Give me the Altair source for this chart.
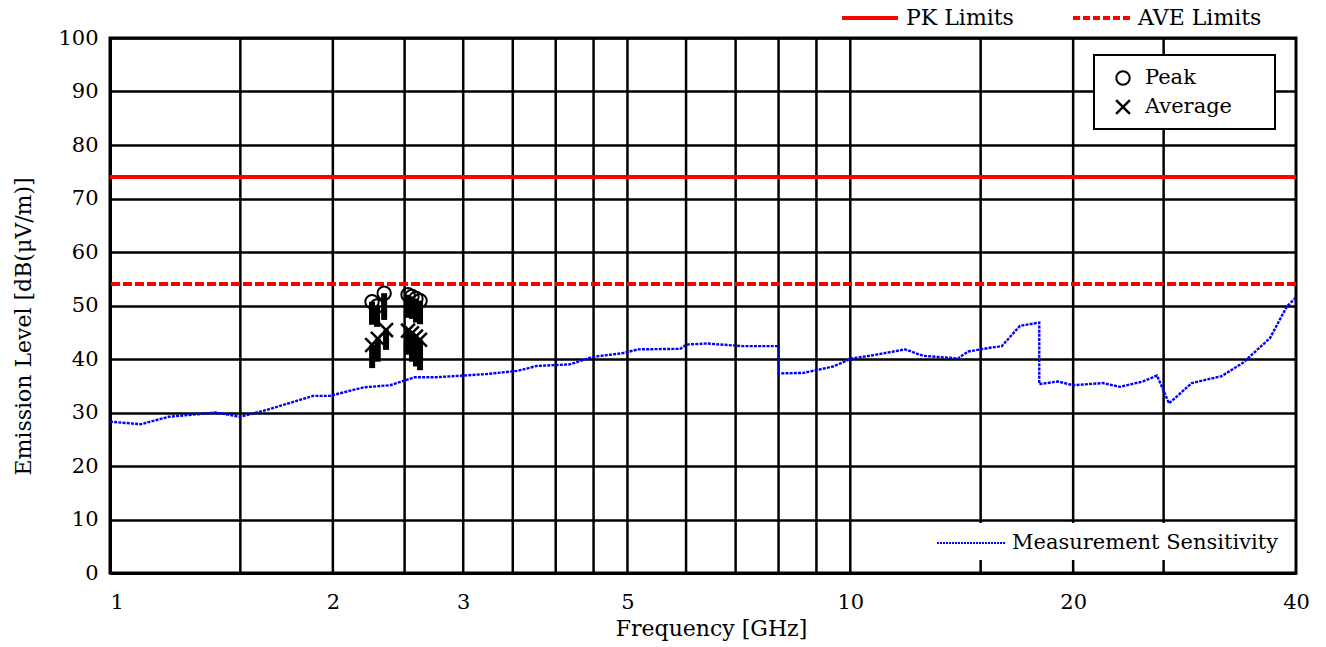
import altair as alt
import pandas as pd

# Measurement sensitivity trace (GHz, dBuV/m)
sens_freq = [1.0, 1.1, 1.2, 1.39, 1.5, 1.63, 1.88, 1.98, 2.2, 2.39, 2.58, 2.76,
             3.0, 3.23, 3.56, 3.77, 4.18, 4.49, 4.93, 5.17, 5.89, 6.01, 6.4,
             7.16, 8.0, 8.0, 8.64, 9.48, 10.04, 10.73, 11.86, 12.54, 13.98,
             14.42, 15.44, 16.02, 16.95, 18.0, 18.0, 19.08, 19.99, 21.94,
             23.13, 24.85, 25.96, 26.95, 28.92, 31.74, 33.92, 36.89, 38.87, 40.0]
sens_level = [28.3, 27.8, 29.2, 30.0, 29.2, 30.5, 33.1, 33.1, 34.7, 35.1, 36.6, 36.6,
              36.9, 37.2, 37.8, 38.7, 39.0, 40.4, 41.1, 41.8, 41.9, 42.7, 42.9,
              42.4, 42.4, 37.3, 37.4, 38.6, 40.1, 40.7, 41.8, 40.6, 40.1,
              41.4, 42.1, 42.4, 46.2, 46.8, 35.3, 35.8, 35.1, 35.5,
              34.8, 35.8, 36.9, 31.7, 35.5, 36.8, 39.3, 43.9, 49.8, 51.5]

# Emissions found: peak and average detector readings
peak_freq = [2.259, 2.295, 2.346, 2.527, 2.558, 2.590, 2.623]
peak_level = [50.7, 49.9, 52.3, 52.0, 51.7, 51.3, 50.9]
peak_low = [46.4, 46.0, 47.3, 47.7, 47.5, 46.8, 46.5]
ave_freq = [2.26, 2.30, 2.36, 2.527, 2.558, 2.590, 2.623]
ave_level = [42.6, 43.8, 45.4, 45.3, 44.8, 44.2, 43.6]
ave_low = [38.3, 39.5, 41.7, 40.8, 39.5, 38.6, 37.9]

# Limits
limit_names = ["PK Limits", "AVE Limits"]
limit_levels = [74, 54]

# Frequency grid and tick labels
grid_freqs = [1.5, 2, 2.5, 3, 3.5, 4, 4.5, 5, 6, 7, 8, 9, 10, 15, 20, 26.5]
x_tick_values = [1, 2, 3, 5, 10, 20, 40]
y_tick_values = list(range(0, 101, 10))

FONT = "DejaVu Serif"
FS = 21
W, H = 1186, 535
RED = "#ff0000"
BLUE = "#0000ff"
CROSS = "M-1,-1L1,1M-1,1L1,-1"

x_scale = alt.Scale(type="log", domain=[1, 40], nice=False)
y_scale = alt.Scale(domain=[0, 100], nice=False)

x_axis = alt.Axis(values=x_tick_values, format="~g", title="Frequency [GHz]",
                  grid=False, ticks=False, labelPadding=18, titlePadding=6,
                  labelFlush=False,
                  labelAlign={"condition": {"test": "datum.value <= 1",
                                            "value": "left"},
                              "value": "center"},
                  titleX=601,
                  labelFontSize=FS, titleFontSize=22)
y_axis = alt.Axis(values=y_tick_values, title="Emission Level [dB(μV/m)]",
                  grid=True, gridColor="black", gridWidth=2.5, gridOpacity=1,
                  ticks=False, labelPadding=12, titlePadding=22, titleY=288,
                  labelFontSize=FS, titleFontSize=22)

X = alt.X("freq:Q", scale=x_scale, axis=x_axis)
Y = alt.Y("level:Q", scale=y_scale, axis=y_axis)

grid_df = pd.DataFrame({"freq": grid_freqs})
sens_df = pd.DataFrame({"freq": sens_freq, "level": sens_level,
                        "idx": list(range(len(sens_freq)))})
peak_df = pd.DataFrame({"freq": peak_freq, "level": peak_level, "low": peak_low})
ave_df = pd.DataFrame({"freq": ave_freq, "level": ave_level, "low": ave_low})
limit_df = pd.DataFrame({"name": limit_names, "level": limit_levels})

vgrid = alt.Chart(grid_df).mark_rule(color="black", strokeWidth=2.5).encode(x=X)

sens_box = alt.Chart(pd.DataFrame({"k": [0]})).mark_rect(fill="white").encode(
    x=alt.value(820), x2=alt.value(1184), y=alt.value(485), y2=alt.value(522))

pk_line = alt.Chart(limit_df[limit_df.name == "PK Limits"]).mark_rule(
    color=RED, strokeWidth=4).encode(y=Y)
ave_line = alt.Chart(limit_df[limit_df.name == "AVE Limits"]).mark_rule(
    color=RED, strokeWidth=4, strokeDash=[9, 3]).encode(y=Y)

sens_line = alt.Chart(sens_df).mark_line(
    color=BLUE, strokeWidth=2.4, strokeDash=[3, 1.2]).encode(
    x=X, y=Y, order="idx:Q")

peak_stem = alt.Chart(peak_df).mark_rule(color="black", strokeWidth=6).encode(
    x=X, y=Y, y2="low:Q")
ave_stem = alt.Chart(ave_df).mark_rule(color="black", strokeWidth=6).encode(
    x=X, y=Y, y2="low:Q")
peak_pts = alt.Chart(peak_df).mark_point(
    shape="circle", size=180, filled=False, color="black", strokeWidth=2,
    opacity=1).encode(x=X, y=Y)
ave_pts = alt.Chart(ave_df).mark_point(
    shape=CROSS, size=190, filled=False, color="black", strokeWidth=2.5,
    opacity=1).encode(x=X, y=Y)

one = pd.DataFrame({"k": [0]})
LFS = 21
TFS = 22

# Limit legend above the plot
pk_key = alt.Chart(one).mark_rule(color=RED, strokeWidth=4).encode(
    x=alt.value(732), x2=alt.value(788), y=alt.value(-20))
pk_txt = alt.Chart(one).mark_text(
    text="PK Limits", align="left", baseline="middle", font=FONT,
    fontSize=TFS, color="black").encode(x=alt.value(796), y=alt.value(-20))
ave_key = alt.Chart(one).mark_rule(color=RED, strokeWidth=4,
                                   strokeDash=[7, 3]).encode(
    x=alt.value(963), x2=alt.value(1022), y=alt.value(-20))
ave_txt = alt.Chart(one).mark_text(
    text="AVE Limits", align="left", baseline="middle", font=FONT,
    fontSize=TFS, color="black").encode(x=alt.value(1028), y=alt.value(-20))

# Detector legend box
det_box = alt.Chart(one).mark_rect(fill="white", stroke="black",
                                   strokeWidth=2).encode(
    x=alt.value(984), x2=alt.value(1165), y=alt.value(17), y2=alt.value(91))
det_circle = alt.Chart(one).mark_point(
    shape="circle", size=180, filled=False, color="black", strokeWidth=2,
    opacity=1).encode(x=alt.value(1013), y=alt.value(40))
det_cross = alt.Chart(one).mark_point(
    shape=CROSS, size=190, filled=False, color="black", strokeWidth=2.5,
    opacity=1).encode(x=alt.value(1013), y=alt.value(69))
det_peak = alt.Chart(one).mark_text(
    text="Peak", align="left", baseline="middle", font=FONT, fontSize=LFS,
    color="black").encode(x=alt.value(1035), y=alt.value(40))
det_ave = alt.Chart(one).mark_text(
    text="Average", align="left", baseline="middle", font=FONT, fontSize=LFS,
    color="black").encode(x=alt.value(1035), y=alt.value(69))

# Sensitivity legend
sens_key = alt.Chart(one).mark_rule(color=BLUE, strokeWidth=2.2,
                                    strokeDash=[2, 1]).encode(
    x=alt.value(827), x2=alt.value(895), y=alt.value(505))
sens_txt = alt.Chart(one).mark_text(
    text="Measurement Sensitivity", align="left", baseline="middle",
    font=FONT, fontSize=LFS, color="black").encode(
    x=alt.value(902), y=alt.value(505))

chart = alt.layer(
    vgrid, sens_box, pk_line, ave_line, sens_line,
    peak_stem, ave_stem, peak_pts, ave_pts,
    pk_key, pk_txt, ave_key, ave_txt,
    det_box, det_circle, det_cross, det_peak, det_ave,
    sens_key, sens_txt,
).properties(
    width=W, height=H,
    autosize=alt.AutoSizeParams(type="none"),
    padding={"left": 110, "top": 38, "right": 30, "bottom": 74},
    background="white",
).configure(
    font=FONT,
).configure_view(
    stroke="black", strokeWidth=3,
).configure_axis(
    labelFont=FONT, titleFont=FONT, labelColor="black", titleColor="black",
    titleFontWeight="normal", domainColor="black", domainWidth=3,
)

chart.save("out.html", embed_options={"renderer": "svg", "actions": False})
